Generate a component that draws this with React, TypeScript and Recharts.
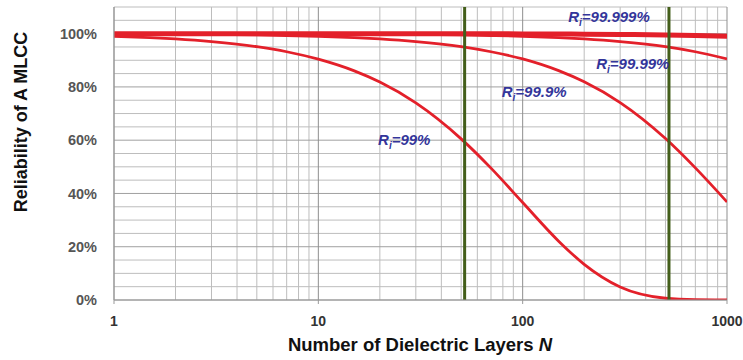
import React from "react";
import { LineChart, Line, XAxis, YAxis, ReferenceLine, ReferenceDot } from "recharts";

// number of dielectric layers (log axis)
const layers = [1, 1.5, 2, 3, 5, 7, 10, 15, 20, 30, 50, 70, 100, 150, 200, 300, 500, 700, 1000];

// reliability
const ri99 = [0.99, 0.985, 0.98, 0.97, 0.951, 0.932, 0.904, 0.86, 0.818, 0.74, 0.605, 0.495, 0.366, 0.221, 0.134, 0.049, 0.0066, 0.0009, 0.0];
const ri999 = [0.999, 0.9985, 0.998, 0.997, 0.995, 0.993, 0.99, 0.985, 0.98, 0.97, 0.951, 0.932, 0.905, 0.861, 0.819, 0.741, 0.606, 0.496, 0.368];
const ri9999 = [1.0, 1.0, 1.0, 0.9997, 0.9995, 0.9993, 0.999, 0.9985, 0.998, 0.997, 0.995, 0.993, 0.99, 0.985, 0.98, 0.97, 0.951, 0.932, 0.905];
const ri99999 = [1.0, 1.0, 1.0, 1.0, 1.0, 0.9999, 0.9999, 0.9999, 0.9998, 0.9997, 0.9995, 0.9993, 0.999, 0.9985, 0.998, 0.997, 0.995, 0.993, 0.99];

const xTicks = [1, 10, 100, 1000];
const xMinor = [2, 3, 4, 5, 6, 7, 8, 9, 20, 30, 40, 50, 60, 70, 80, 90, 200, 300, 400, 500, 600, 700, 800, 900];
const yTicks = [0, 0.2, 0.4, 0.6, 0.8, 1.0];
const yMinor = [0.05, 0.1, 0.15, 0.25, 0.3, 0.35, 0.45, 0.5, 0.55, 0.65, 0.7, 0.75, 0.85, 0.9, 0.95, 1.05, 1.1];

const markers = [52, 520];

const curveLabels = [
  { n: 19.6, r: 0.6, text: "=99%" },
  { n: 79, r: 0.78, text: "=99.9%" },
  { n: 229, r: 0.887, text: "=99.99%" },
  { n: 167, r: 1.064, text: "=99.999%" },
];

const data = layers.map((n, i) => ({
  n,
  r99: ri99[i],
  r999: ri999[i],
  r9999: ri9999[i],
  r99999: ri99999[i],
}));

const RED = "#e3202a";
const FONT = "'Liberation Sans', Arial, sans-serif";

const makeLabel = (text: string) => (props: any) => {
  const vb = props.viewBox || {};
  return (
    <text
      x={vb.x}
      y={vb.y + 5}
      fontFamily={FONT}
      fontWeight="bold"
      fontStyle="italic"
      fontSize={15}
      fill="#33359a"
    >
      <tspan>R</tspan>
      <tspan dy={4} fontSize={10}>i</tspan>
      <tspan dy={-4}>{text}</tspan>
    </text>
  );
};

const App = () => {
  return (
    <div style={{ position: "absolute", left: 0, top: 0, width: 743, height: 360 }}>
      <LineChart width={743} height={360} data={data} margin={{ top: 7, right: 16, bottom: 30, left: 0 }}>
        {xMinor.map((v) => (
          <ReferenceLine key={"xm" + v} x={v} stroke="#bdbdbd" strokeWidth={1} />
        ))}
        {yMinor.map((v) => (
          <ReferenceLine key={"ym" + v} y={v} stroke="#bdbdbd" strokeWidth={1} />
        ))}
        {yTicks.map((v) => (
          <ReferenceLine key={"yt" + v} y={v} stroke="#a0a0a0" strokeWidth={1} />
        ))}
        {xTicks.map((v) => (
          <ReferenceLine key={"xt" + v} x={v} stroke="#8f8f8f" strokeWidth={1} />
        ))}
        <XAxis
          dataKey="n"
          type="number"
          scale="log"
          domain={[1, 1000]}
          ticks={xTicks}
          allowDataOverflow
          height={30}
          stroke="#999"
          tickSize={4}
          tickMargin={12}
          tick={{ fontFamily: FONT, fontWeight: "bold", fontSize: 14, fill: "#333" }}
        />
        <YAxis
          type="number"
          domain={[0, 1.1]}
          ticks={yTicks}
          allowDataOverflow
          width={114}
          stroke="#999"
          tickSize={0}
          tickMargin={17}
          tickFormatter={(v: number) => `${Math.round(v * 100)}%`}
          tick={{ fontFamily: FONT, fontWeight: "bold", fontSize: 14.5, fill: "#555" }}
        />
        <Line type="monotone" dataKey="r99" stroke={RED} strokeWidth={2.8} dot={false} isAnimationActive={false} />
        <Line type="monotone" dataKey="r999" stroke={RED} strokeWidth={2.8} dot={false} isAnimationActive={false} />
        <Line type="monotone" dataKey="r9999" stroke={RED} strokeWidth={2.8} dot={false} isAnimationActive={false} />
        <Line type="monotone" dataKey="r99999" stroke={RED} strokeWidth={5} dot={false} isAnimationActive={false} />
        {markers.map((m) => (
          <ReferenceLine key={"g" + m} x={m} stroke="#435e1a" strokeWidth={3} />
        ))}
        {curveLabels.map((l) => (
          <ReferenceDot
            key={l.text}
            x={l.n}
            y={l.r}
            r={0}
            fill="none"
            stroke="none"
            label={{ content: makeLabel(l.text) }}
          />
        ))}
      </LineChart>
      <svg width={743} height={360} style={{ position: "absolute", left: 0, top: 0, pointerEvents: "none" }}>
        <text
          x={22}
          y={122}
          transform="rotate(-90 22 122)"
          textAnchor="middle"
          dominantBaseline="middle"
          fontFamily={FONT}
          fontWeight="bold"
          fontSize={18}
          fill="#111"
        >
          Reliability of A MLCC
        </text>
        <text
          x={420}
          y={346}
          textAnchor="middle"
          dominantBaseline="middle"
          fontFamily={FONT}
          fontWeight="bold"
          fontSize={18.5}
          fill="#111"
        >
          Number of Dielectric Layers <tspan fontStyle="italic">N</tspan>
        </text>
      </svg>
    </div>
  );
};

export default App;
